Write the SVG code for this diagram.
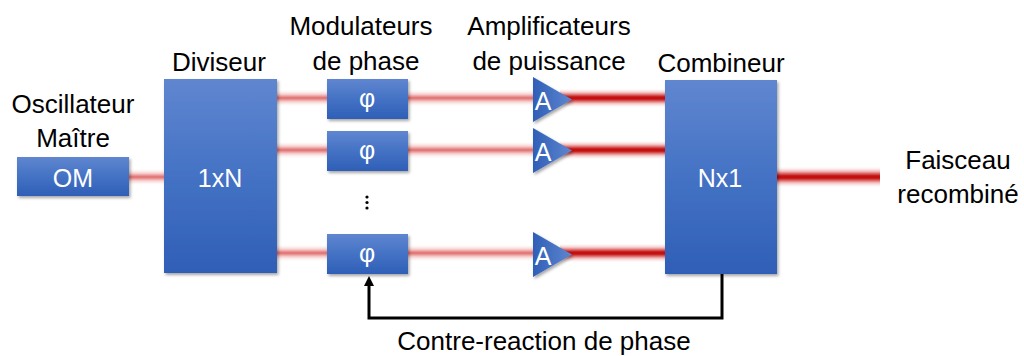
<svg xmlns="http://www.w3.org/2000/svg" width="1024" height="356" viewBox="0 0 1024 356">
<defs>
<linearGradient id="boxg" x1="0" y1="0" x2="0" y2="1">
<stop offset="0" stop-color="#6086d0"/>
<stop offset="0.5" stop-color="#4472c4"/>
<stop offset="1" stop-color="#2f5fb7"/>
</linearGradient>
<linearGradient id="trig" x1="0" y1="0" x2="1" y2="0">
<stop offset="0" stop-color="#2f5fb7"/>
<stop offset="1" stop-color="#5f86d0"/>
</linearGradient>
<linearGradient id="pale" x1="0" y1="0" x2="0" y2="1">
<stop offset="0" stop-color="#ffffff" stop-opacity="0"/>
<stop offset="0.3" stop-color="#f6cccc"/>
<stop offset="0.5" stop-color="#e06c6c"/>
<stop offset="0.7" stop-color="#f6cccc"/>
<stop offset="1" stop-color="#ffffff" stop-opacity="0"/>
</linearGradient>
<linearGradient id="dark" x1="0" y1="0" x2="0" y2="1">
<stop offset="0" stop-color="#ffffff" stop-opacity="0"/>
<stop offset="0.25" stop-color="#f0b4b4"/>
<stop offset="0.45" stop-color="#c41010"/>
<stop offset="0.55" stop-color="#c41010"/>
<stop offset="0.75" stop-color="#f0b4b4"/>
<stop offset="1" stop-color="#ffffff" stop-opacity="0"/>
</linearGradient>
<filter id="sh" x="-10%" y="-10%" width="130%" height="130%">
<feDropShadow dx="1.5" dy="2" stdDeviation="1.5" flood-color="#000" flood-opacity="0.35"/>
</filter>
<marker id="arr" viewBox="0 0 10 10" refX="4" refY="5" markerWidth="10" markerHeight="10" markerUnits="userSpaceOnUse" orient="auto">
<path d="M0,0 L10,5 L0,10 Z" fill="#000"/>
</marker>
</defs>
<style>
.box{fill:url(#boxg);filter:url(#sh)}
.tri{fill:url(#trig);filter:url(#sh)}
.lbl{font-family:"Liberation Sans",Arial,sans-serif;font-size:26px;fill:#000;text-anchor:middle}
.in{font-family:"Liberation Sans",Arial,sans-serif;font-size:25px;fill:#fff;text-anchor:middle}
.pale{fill:url(#pale)}
.dark{fill:url(#dark)}
.fb{fill:none;stroke:#000;stroke-width:3}
</style>
<rect width="1024" height="356" fill="#fff"/>
<g id="connectors">
<rect class="pale" x="129" y="168" width="36" height="18"/>
<rect class="pale" x="277" y="89" width="51" height="18"/>
<rect class="pale" x="277" y="141" width="51" height="18"/>
<rect class="pale" x="277" y="244" width="51" height="18"/>
<rect class="pale" x="408" y="89" width="126" height="18"/>
<rect class="pale" x="408" y="141" width="126" height="18"/>
<rect class="pale" x="408" y="244" width="126" height="18"/>
<rect class="dark" x="560" y="88" width="106" height="20"/>
<rect class="dark" x="560" y="140" width="106" height="20"/>
<rect class="dark" x="560" y="243" width="106" height="20"/>
<rect class="dark" x="776" y="166" width="104" height="22"/>
<path class="fb" d="M722,274 V318 H369 V282" marker-end="url(#arr)"/>
</g>
<g id="om">
<rect class="box" x="17" y="157" width="112" height="39"/>
<text class="in" x="73" y="187">OM</text>
<text class="lbl" x="73" y="113">Oscillateur</text>
<text class="lbl" x="73" y="147">Maître</text>
</g>
<g id="diviseur">
<rect class="box" x="164" y="79" width="113" height="194"/>
<text class="in" x="220" y="187">1xN</text>
<text class="lbl" x="219" y="71">Diviseur</text>
</g>
<g id="modulateurs">
<text class="lbl" x="361" y="35">Modulateurs</text>
<text class="lbl" x="366" y="70">de phase</text>
<circle cx="367" cy="197" r="1.6" fill="#000"/>
<circle cx="367" cy="202.5" r="1.6" fill="#000"/>
<circle cx="367" cy="208" r="1.6" fill="#000"/>
</g>
<g id="mod1">
<rect class="box" x="327" y="79" width="81" height="40"/>
<text class="in" x="367" y="107">φ</text>
</g>
<g id="mod2">
<rect class="box" x="327" y="131" width="81" height="40"/>
<text class="in" x="367" y="159">φ</text>
</g>
<g id="mod3">
<rect class="box" x="327" y="234" width="81" height="40"/>
<text class="in" x="367" y="262">φ</text>
</g>
<g id="amplificateurs">
<text class="lbl" x="549" y="35">Amplificateurs</text>
<text class="lbl" x="549" y="70">de puissance</text>
</g>
<g id="amp1">
<polygon class="tri" points="533,77 572,99.5 533,122"/>
<text class="in" x="543" y="110">A</text>
</g>
<g id="amp2">
<polygon class="tri" points="533,128 572,150.5 533,173"/>
<text class="in" x="543" y="161">A</text>
</g>
<g id="amp3">
<polygon class="tri" points="533,232 572,254.5 533,277"/>
<text class="in" x="543" y="265">A</text>
</g>
<g id="combineur">
<rect class="box" x="665" y="80" width="112" height="194"/>
<text class="in" x="720" y="187">Nx1</text>
<text class="lbl" x="721" y="72">Combineur</text>
</g>
<g id="sortie">
<text class="lbl" x="958" y="169">Faisceau</text>
<text class="lbl" x="958" y="203">recombiné</text>
</g>
<g id="feedback-label">
<text class="lbl" x="544" y="350">Contre-reaction de phase</text>
</g>
</svg>
